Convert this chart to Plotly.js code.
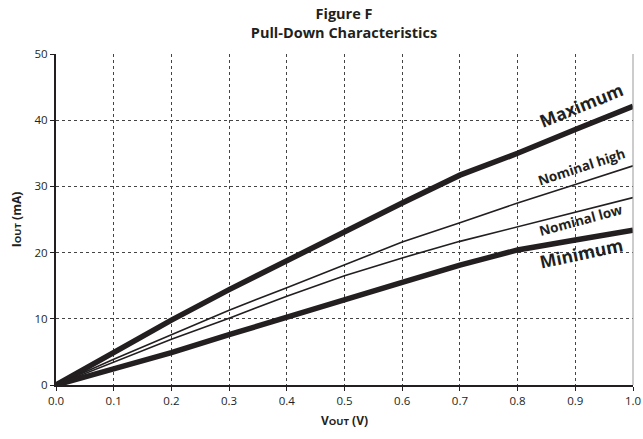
<!DOCTYPE html>
<html><head><meta charset="utf-8">
<script src="https://cdn.plot.ly/plotly-3.0.1.min.js"></script>
<style>body{margin:0;background:#fff}#chart{width:643px;height:439px}</style>
</head><body><div id="chart"></div>
<script>
const vout = [0.0, 0.1, 0.2, 0.3, 0.4, 0.5, 0.6, 0.7, 0.8, 0.9, 1.0];
const maximum     = [0, 5.0, 9.8, 14.4, 18.8, 23.2, 27.5, 31.7, 35.0, 38.6, 42.1];
const nominalHigh = [0, 3.9, 7.6, 11.3, 14.7, 18.2, 21.6, 24.5, 27.5, 30.3, 33.1];
const nominalLow  = [0, 3.5, 6.9, 10.1, 13.4, 16.5, 19.2, 21.7, 23.9, 26.1, 28.3];
const minimum     = [0, 2.45, 4.9, 7.6, 10.3, 12.9, 15.5, 18.1, 20.4, 21.9, 23.4];
const xTicks = [0, 0.1, 0.2, 0.3, 0.4, 0.5, 0.6, 0.7, 0.8, 0.9, 1.0];
const xTickText = ['0.0','0.1','0.2','0.3','0.4','0.5','0.6','0.7','0.8','0.9','1.0'];
const yTicks = [0, 10, 20, 30, 40, 50];

const FONT = '"Open Sans", "Liberation Sans", sans-serif';
const col = '#231f20';
const traces = [
  {x: vout, y: maximum, mode: 'lines', line: {color: col, width: 5.5}, name: 'Maximum'},
  {x: vout, y: nominalHigh, mode: 'lines', line: {color: col, width: 1.6}, name: 'Nominal high'},
  {x: vout, y: nominalLow, mode: 'lines', line: {color: col, width: 1.6}, name: 'Nominal low'},
  {x: vout, y: minimum, mode: 'lines', line: {color: col, width: 5.5}, name: 'Minimum'}
];
const layout = {
  width: 643, height: 439,
  margin: {l: 56, r: 10, t: 54, b: 54},
  paper_bgcolor: '#fff', plot_bgcolor: '#fff',
  showlegend: false,
  font: {family: FONT, color: col, size: 11.5},
  title: {text: '<b>Figure F<br>Pull-Down Characteristics</b>', x: 0.535, xanchor: 'center',
          yref: 'container', y: 0.957, yanchor: 'middle',
          font: {family: FONT, size: 14.5, color: col}},
  xaxis: {range: [0, 1], tickvals: xTicks, ticktext: xTickText, ticks: 'outside', ticklen: 4, tickwidth: 1, tickcolor: col,
          showline: true, linewidth: 2, linecolor: col, mirror: false,
          showgrid: true, gridcolor: '#444', griddash: 'dot', gridwidth: 1, zeroline: false,
          title: {text: '<b>V<span style="font-size:9.5px">OUT</span> (V)</b>', font: {family: FONT, size: 12}, standoff: 10}},
  yaxis: {range: [0, 50], tickvals: yTicks, ticks: 'outside', ticklen: 4, tickwidth: 1, tickcolor: col,
          showline: true, linewidth: 2, linecolor: col,
          showgrid: true, gridcolor: '#444', griddash: 'dot', gridwidth: 1, zeroline: false,
          title: {text: '<b>I<span style="font-size:9.5px">OUT</span> (mA)</b>', font: {family: FONT, size: 12}, standoff: 10}},
  shapes: [{type: 'line', xref: 'paper', yref: 'paper', x0: 1, x1: 1, y0: 0, y1: 1, line: {color: '#999', width: 1}}],
  annotations: [
    {x: 0.91, y: 42.3, text: '<b>Maximum</b>', showarrow: false, textangle: -22, font: {family: FONT, size: 17.5, color: col}},
    {x: 0.91, y: 33.0, text: '<b>Nominal high</b>', showarrow: false, textangle: -18, font: {family: FONT, size: 13.5, color: col}},
    {x: 0.91, y: 24.9, text: '<b>Nominal low</b>', showarrow: false, textangle: -15, font: {family: FONT, size: 13.5, color: col}},
    {x: 0.91, y: 19.9, text: '<b>Minimum</b>', showarrow: false, textangle: -12, font: {family: FONT, size: 17.5, color: col}}
  ]
};
Plotly.newPlot('chart', traces, layout, {displayModeBar: false});
</script></body></html>
